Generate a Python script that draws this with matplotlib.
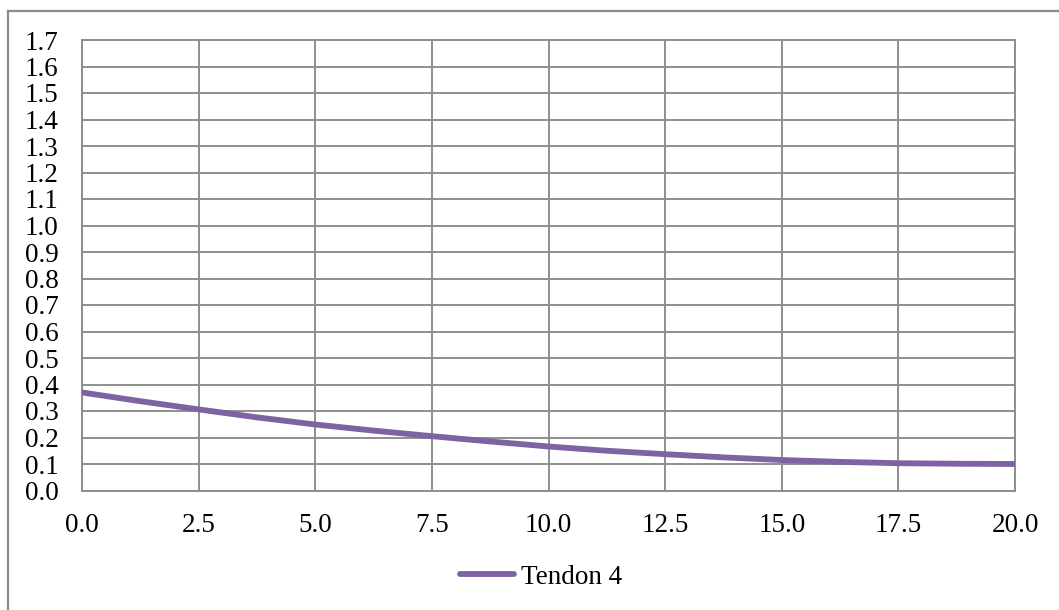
import matplotlib
matplotlib.use("Agg")
import matplotlib.pyplot as plt
from matplotlib.lines import Line2D
from matplotlib.ticker import MultipleLocator, FormatStrFormatter

# Tendon 4 profile along the span
x_pos = [0.0, 1.25, 2.5, 3.75, 5.0, 6.25, 7.5, 8.75, 10.0, 11.25,
         12.5, 13.75, 15.0, 16.25, 17.5, 18.75, 20.0]
tendon4 = [0.370, 0.337, 0.306, 0.276, 0.249, 0.226, 0.205, 0.185, 0.166, 0.150,
           0.137, 0.125, 0.115, 0.108, 0.103, 0.101, 0.100]
series_name = "Tendon 4"

plt.rcParams["font.family"] = ["Liberation Serif", "DejaVu Serif"]

W, H = 1059, 610
fig = plt.figure(figsize=(W / 100, H / 100), dpi=100)

# outer chart frame (left and top edges fall inside the image)
frame_c = "#8c8c8c"
fx, fy = 8 / W, 1 - 10.5 / H
fig.add_artist(Line2D([fx, fx], [0, fy], transform=fig.transFigure,
                      color=frame_c, linewidth=1.6))
fig.add_artist(Line2D([fx, 1], [fy, fy], transform=fig.transFigure,
                      color=frame_c, linewidth=1.6))

left, right, top, bottom = 82, 1015, 40, 490.5
ax = fig.add_axes([left / W, 1 - bottom / H, (right - left) / W, (bottom - top) / H])

purple = "#7F62A4"
line, = ax.plot(x_pos, tendon4, color=purple, linewidth=4.2,
                solid_capstyle="round", label=series_name, zorder=3)

ax.set_xlim(0, 20)
ax.set_ylim(0, 1.7)
ax.xaxis.set_major_locator(MultipleLocator(2.5))
ax.yaxis.set_major_locator(MultipleLocator(0.1))
ax.xaxis.set_major_formatter(FormatStrFormatter("%.1f"))
ax.yaxis.set_major_formatter(FormatStrFormatter("%.1f"))

grid_c = "#8e8e8e"
ax.grid(True, color=grid_c, linewidth=1.4)
ax.set_axisbelow(True)
for s in ax.spines.values():
    s.set_color(grid_c)
    s.set_linewidth(1.4)

ax.tick_params(axis="both", length=0, labelsize=19.5, colors="black")
ax.tick_params(axis="x", pad=16)
ax.tick_params(axis="y", pad=17)

leg = fig.legend(handles=[line], loc="center", bbox_to_anchor=(541 / W, 1 - 577 / H),
                 frameon=False, fontsize=19.5, handlelength=2.0, handletextpad=0.25,
                 borderaxespad=0)

fig.savefig("out.png", dpi=100)
